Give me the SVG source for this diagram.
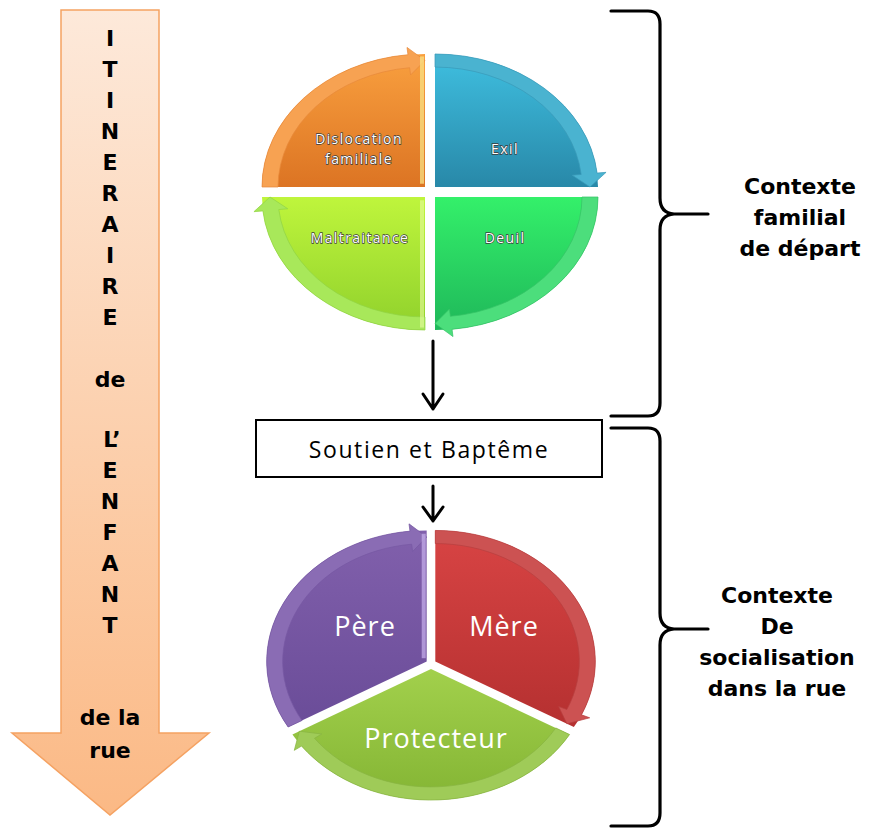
<svg xmlns="http://www.w3.org/2000/svg" width="869" height="830" viewBox="0 0 869 830">
<defs>
<linearGradient id="gArrow" x1="0" y1="0" x2="0" y2="1"><stop offset="0" stop-color="#fde9da"/><stop offset="1" stop-color="#fbb985"/></linearGradient>
<linearGradient id="gOr" x1="0" y1="0" x2="0" y2="1"><stop offset="0" stop-color="#f9a03f"/><stop offset="1" stop-color="#dc7423"/></linearGradient>
<linearGradient id="gBl" x1="0" y1="0" x2="0" y2="1"><stop offset="0" stop-color="#3fbfe0"/><stop offset="1" stop-color="#2888a8"/></linearGradient>
<linearGradient id="gGr" x1="0" y1="0" x2="0" y2="1"><stop offset="0" stop-color="#34f06a"/><stop offset="1" stop-color="#1fb85a"/></linearGradient>
<linearGradient id="gLg" x1="0" y1="0" x2="0" y2="1"><stop offset="0" stop-color="#bff53c"/><stop offset="1" stop-color="#90d12c"/></linearGradient>
<linearGradient id="gPu" x1="0" y1="0" x2="0" y2="1"><stop offset="0" stop-color="#8160ac"/><stop offset="1" stop-color="#6a4c98"/></linearGradient>
<linearGradient id="gRe" x1="0" y1="0" x2="0" y2="1"><stop offset="0" stop-color="#d84444"/><stop offset="1" stop-color="#b53030"/></linearGradient>
<linearGradient id="gPg" x1="0" y1="0" x2="0" y2="1"><stop offset="0" stop-color="#a2d04c"/><stop offset="1" stop-color="#84b534"/></linearGradient>
</defs>
<style>
.vt{font-family:"DejaVu Sans",Verdana,sans-serif;font-weight:bold;font-size:22px;fill:#000;text-anchor:middle}
.ctx{font-family:"DejaVu Sans",Verdana,sans-serif;font-weight:bold;font-size:22px;fill:#000;text-anchor:middle}
.sm{font-family:"Open Sans","Noto Sans",sans-serif;font-size:14px;letter-spacing:1.4px;fill:#fff;stroke:#3a3a3a;stroke-width:1.3px;paint-order:stroke;text-anchor:middle}
.lg{font-family:"Open Sans","Noto Sans",sans-serif;font-size:27px;letter-spacing:1px;fill:#fff;text-anchor:middle}
.brace{fill:none;stroke:#000;stroke-width:3.2;stroke-linejoin:round;stroke-linecap:round}
.conn{fill:none;stroke:#000;stroke-width:3;stroke-linecap:round;stroke-linejoin:round}
</style>

<g id="itineraire">
<path d="M61,10 H159 V733 H209 L110,815 L12,733 H61 Z" fill="url(#gArrow)" stroke="#f5a262" stroke-width="1.5"/>
<text class="vt" x="110" y="46">I</text>
<text class="vt" x="110" y="77">T</text>
<text class="vt" x="110" y="108">I</text>
<text class="vt" x="110" y="139">N</text>
<text class="vt" x="110" y="170">E</text>
<text class="vt" x="110" y="201">R</text>
<text class="vt" x="110" y="232">A</text>
<text class="vt" x="110" y="263">I</text>
<text class="vt" x="110" y="294">R</text>
<text class="vt" x="110" y="325">E</text>
<text class="vt" x="110" y="387">de</text>
<text class="vt" x="112" y="447">L’</text>
<text class="vt" x="110" y="478">E</text>
<text class="vt" x="110" y="509">N</text>
<text class="vt" x="110" y="540">F</text>
<text class="vt" x="110" y="571">A</text>
<text class="vt" x="110" y="602">N</text>
<text class="vt" x="110" y="633">T</text>
<text class="vt" x="110" y="725">de la</text>
<text class="vt" x="110" y="758">rue</text>
</g>

<g id="dislocation">
<g transform="translate(425,187) scale(1,0.816)">
<path d="M0,0 L-163,0 A163,163 0 0,1 0,-163 Z" fill="url(#gOr)"/>
<path d="M-163,0 A163,163 0 0,1 -17.04,-162.11 L-17.98,-171.06 L0,-155 L-14.43,-137.24 L-15.37,-146.19 A147,147 0 0,0 -147,0 Z" fill="#f7a252" stroke="#e8893a" stroke-width="0.8"/>
<path d="M-3,-4 V-160" stroke="#fbe88a" stroke-width="4" opacity="0.7"/>
</g>
<text class="sm" x="359" y="143.5">Dislocation</text>
<text class="sm" x="359" y="163.5">familiale</text>
</g>

<g id="exil">
<g transform="translate(435,187) scale(1,0.816)">
<path d="M0,0 L0,-163 A163,163 0 0,1 163,0 Z" fill="url(#gBl)"/>
<path d="M0,-163 A163,163 0 0,1 162.11,-17.04 L171.06,-17.98 L155,0 L137.24,-14.43 L146.19,-15.37 A147,147 0 0,0 0,-147 Z" fill="#4ab3d0" stroke="#3a9ab8" stroke-width="0.8"/>
</g>
<text class="sm" x="505" y="154">Exil</text>
</g>

<g id="deuil">
<g transform="translate(435,197) scale(1,0.816)">
<path d="M0,0 L163,0 A163,163 0 0,1 0,163 Z" fill="url(#gGr)"/>
<path d="M163,0 A163,163 0 0,1 17.04,162.11 L17.98,171.06 L0,155 L14.43,137.24 L15.37,146.19 A147,147 0 0,0 147,0 Z" fill="#4cde7c" stroke="#36c466" stroke-width="0.8"/>
</g>
<text class="sm" x="505" y="243">Deuil</text>
</g>

<g id="maltraitance">
<g transform="translate(425,197) scale(1,0.816)">
<path d="M0,0 L0,163 A163,163 0 0,1 -163,0 Z" fill="url(#gLg)"/>
<path d="M0,163 A163,163 0 0,1 -162.11,17.04 L-171.06,17.98 L-155,0 L-137.24,14.43 L-146.19,15.37 A147,147 0 0,0 0,147 Z" fill="#a8e85a" stroke="#92d444" stroke-width="0.8"/>
<path d="M-3,4 V160" stroke="#e8fca0" stroke-width="4" opacity="0.6"/>
</g>
<text class="sm" x="360" y="243">Maltraitance</text>
</g>

<g id="soutien">
<rect x="256" y="420" width="346" height="57" fill="#fff" stroke="#000" stroke-width="2"/>
<text x="429" y="458" font-family="'Open Sans','Noto Sans',sans-serif" font-size="23" letter-spacing="1.6" text-anchor="middle" fill="#000">Soutien et Baptême</text>
</g>

<g id="pere">
<g transform="translate(426.7,661.5) scale(1,0.819)">
<path d="M0,0 L-138.56,80 A160,160 0 0,1 0,-160 Z" fill="url(#gPu)"/>
<path d="M-138.56,80 A160,160 0 0,1 -16.72,-159.12 L-17.67,-168.07 L0,-152 L-14.11,-134.26 L-15.05,-143.21 A144,144 0 0,0 -124.71,72 Z" fill="#8a6cb4" stroke="#7658a2" stroke-width="0.8"/>
<path d="M-3,-4 V-156" stroke="#c9b2ee" stroke-width="4" opacity="0.7"/>
</g>
<text class="lg" x="365" y="636">Père</text>
</g>

<g id="mere">
<g transform="translate(435.3,661.5) scale(1,0.819)">
<path d="M0,0 L0,-160 A160,160 0 0,1 138.56,80 Z" fill="url(#gRe)"/>
<path d="M0,-160 A160,160 0 0,1 146.16,65.08 L154.39,68.74 L131.63,76 L123.33,54.91 L131.55,58.58 A144,144 0 0,0 0,-144 Z" fill="#cc5252" stroke="#b84040" stroke-width="0.8"/>
</g>
<text class="lg" x="504" y="636">Mère</text>
</g>

<g id="protecteur">
<g transform="translate(431,669) scale(1,0.819)">
<path d="M0,0 L138.56,80 A160,160 0 0,1 -138.56,80 Z" fill="url(#gPg)"/>
<path d="M138.56,80 A160,160 0 0,1 -129.44,94.04 L-136.72,99.34 L-131.63,76 L-109.22,79.35 L-116.50,84.64 A144,144 0 0,0 124.71,72 Z" fill="#9fcb58" stroke="#88b442" stroke-width="0.8"/>
</g>
<text class="lg" x="436" y="748">Protecteur</text>
</g>

<g id="contexte-familial">
<text class="ctx" x="800" y="194">Contexte</text>
<text class="ctx" x="800" y="225">familial</text>
<text class="ctx" x="800" y="256">de départ</text>
</g>

<g id="contexte-socialisation">
<text class="ctx" x="777" y="603">Contexte</text>
<text class="ctx" x="777" y="634">De</text>
<text class="ctx" x="777" y="665">socialisation</text>
<text class="ctx" x="777" y="696">dans la rue</text>
</g>

<g id="connectors">
<path class="brace" d="M611,11 H648 Q660,11 660,24 V198 Q660,213 674,214 H708 M674,214 Q660,215 660,230 V403 Q660,416 648,416 H611"/>
<path class="brace" d="M611,428 H648 Q660,428 660,441 V613 Q660,628 674,629 H708 M674,629 Q660,630 660,645 V813 Q660,826 648,826 H611"/>
<path class="conn" d="M433,341 V409 M423,394 L433,409 L443,394"/>
<path class="conn" d="M433,486 V521 M423,507 L433,521 L443,507"/>
</g>
</svg>
